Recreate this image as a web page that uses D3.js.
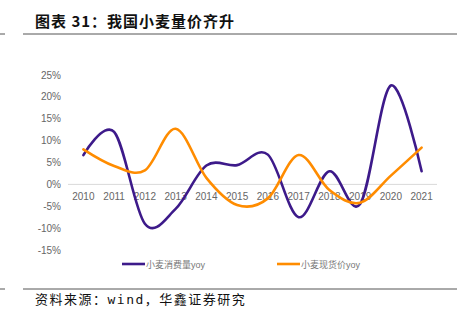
<!DOCTYPE html>
<html><head><meta charset="utf-8">
<script src="https://cdn.jsdelivr.net/npm/d3@7"></script>
<style>body{margin:0;background:#fff}svg{display:block}</style>
</head><body>
<script>
const years = ["2010","2011","2012","2013","2014","2015","2016","2017","2018","2019","2020","2021"];
const consumption = [6.7, 12.0, -9.0, -5.6, 4.3, 4.4, 6.8, -7.5, 3.0, -4.5, 22.6, 3.0];
const price = [8.0, 4.2, 3.2, 12.7, 1.5, -4.7, -3.2, 6.7, -1.3, -4.2, 2.0, 8.4];
const yTicks = [-15, -10, -5, 0, 5, 10, 15, 20, 25];
const seriesNames = ["小麦消费量yoy", "小麦现货价yoy"];
const colors = ["#3d1a8a", "#ff8c00"];

const W = 469, H = 322;
const svg = d3.select("body").append("svg").attr("width", W).attr("height", H);
const font = "Arial, 'Liberation Sans', 'Noto Sans CJK SC', sans-serif";

// title
svg.append("text").attr("x", 35).attr("y", 27).text("图表 31：我国小麦量价齐升")
  .attr("font-family", "'Noto Sans CJK SC', sans-serif").attr("font-size", 15).attr("font-weight", "bold")
  .attr("letter-spacing", 1).attr("fill", "#111");
svg.append("line").attr("x1", 23).attr("x2", 457).attr("y1", 34).attr("y2", 34).attr("stroke", "#555").attr("stroke-width", 1);
svg.append("line").attr("x1", 0).attr("x2", 5).attr("y1", 34).attr("y2", 34).attr("stroke", "#555").attr("stroke-width", 1);

const x = d3.scaleBand().domain(years).range([68, 437]);
const y = d3.scaleLinear().domain([-15, 25]).range([250, 75]);

// y axis labels
svg.append("g").selectAll("text").data(yTicks).join("text")
  .attr("x", 61).attr("y", d => y(d) + 3.5).attr("text-anchor", "end")
  .attr("font-family", font).attr("font-size", 10).attr("fill", "#666")
  .text(d => d + "%");

// zero line
svg.append("line").attr("x1", 68).attr("x2", 437).attr("y1", y(0)).attr("y2", y(0))
  .attr("stroke", "#d9d9d9").attr("stroke-width", 1);

// x labels
svg.append("g").selectAll("text").data(years).join("text")
  .attr("x", d => x(d) + x.bandwidth() / 2).attr("y", y(0) + 16).attr("text-anchor", "middle")
  .attr("font-family", font).attr("font-size", 10).attr("fill", "#666")
  .text(d => d);

const line = d3.line().x((d, i) => x(years[i]) + x.bandwidth() / 2).y(d => y(d)).curve(d3.curveCardinal.tension(0));
[consumption, price].forEach((s, k) => {
  svg.append("path").attr("d", line(s)).attr("fill", "none").attr("stroke", colors[k])
    .attr("stroke-width", 2.6).attr("stroke-linecap", "round");
});

// legend
const legX = [122, 277];
seriesNames.forEach((n, k) => {
  svg.append("line").attr("x1", legX[k]).attr("x2", legX[k] + 23).attr("y1", 264).attr("y2", 264)
    .attr("stroke", colors[k]).attr("stroke-width", 2.6);
  svg.append("text").attr("x", legX[k] + 24).attr("y", 267.5).text(n)
    .attr("font-family", font).attr("font-size", 9).attr("fill", "#777");
});

// footer
svg.append("line").attr("x1", 23).attr("x2", 457).attr("y1", 289).attr("y2", 289).attr("stroke", "#555").attr("stroke-width", 1);
svg.append("line").attr("x1", 0).attr("x2", 5).attr("y1", 289).attr("y2", 289).attr("stroke", "#555").attr("stroke-width", 1);
svg.append("text").attr("x", 35).attr("y", 304).text("资料来源：wind，华鑫证券研究")
  .attr("font-family", "'DejaVu Sans Mono', 'Noto Sans CJK SC', monospace").attr("font-size", 13)
  .attr("letter-spacing", 1.5).attr("fill", "#111");
</script>
</body></html>
